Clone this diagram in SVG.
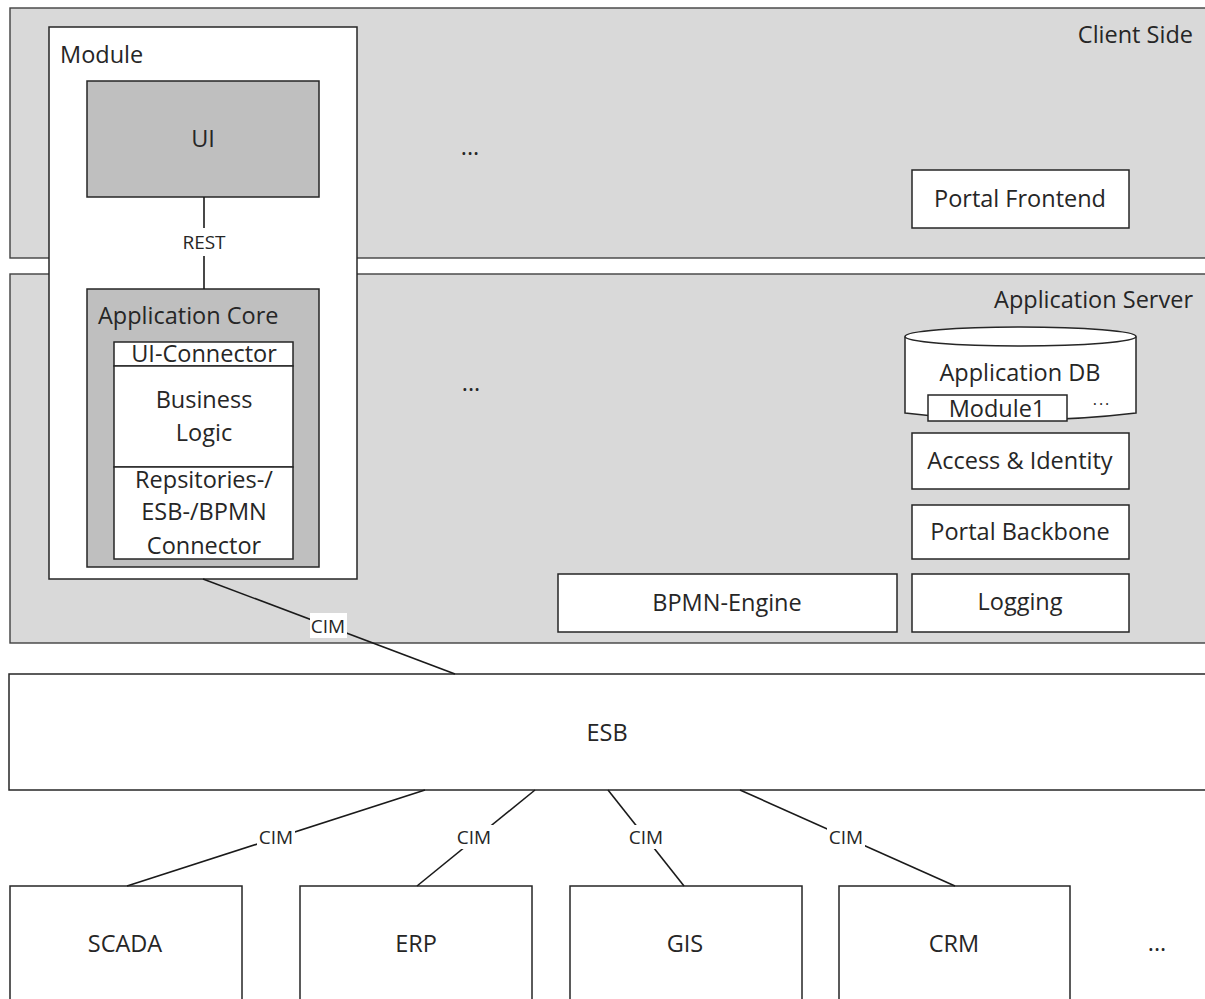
<svg xmlns="http://www.w3.org/2000/svg" width="1205" height="999" viewBox="0 0 1205 999">
  <style>
    text { font-family: "Open Sans", "Noto Sans", "DejaVu Sans", sans-serif; fill: #262626; }
    .lbl { font-size: 23.5px; text-anchor: middle; }
    .head { font-size: 23.5px; }
    .small { font-size: 19px; text-anchor: middle; }
    .panel { fill: #d9d9d9; stroke: #404040; stroke-width: 1.4; }
    .box { fill: #ffffff; stroke: #262626; stroke-width: 1.5; }
    .dark { fill: #bfbfbf; stroke: #262626; stroke-width: 1.5; }
    .conn { stroke: #1a1a1a; stroke-width: 1.6; fill: none; }
    .tagbg { fill: #ffffff; }
  </style>

  <!-- tiers -->
  <g id="client-side">
    <rect class="panel" x="10" y="8" width="1205" height="250"/>
    <text x="1193" y="43" class="head" text-anchor="end">Client Side</text>
    <text x="470" y="155" class="lbl">...</text>
  </g>
  <g id="application-server">
    <rect class="panel" x="10" y="274" width="1205" height="369"/>
    <text x="1193" y="308" class="head" text-anchor="end">Application Server</text>
    <text x="471" y="391" class="lbl">...</text>
  </g>

  <g id="portal-frontend">
    <rect class="box" x="912" y="170" width="217" height="58"/>
    <text x="1020" y="207" class="lbl">Portal Frontend</text>
  </g>

  <g id="application-db">
    <path class="box" d="M905,336.5 L905,413 Q1020,427 1136,413 L1136,336.5"/>
    <ellipse class="box" cx="1020.5" cy="336.5" rx="115.5" ry="9.5"/>
    <text x="1020" y="381" class="lbl">Application DB</text>
    <text x="1102" y="405" font-size="16" letter-spacing="2" text-anchor="middle">...</text>
  </g>
  <g id="db-module1">
    <rect class="box" x="928" y="395" width="139" height="26"/>
    <text x="997" y="417" class="lbl">Module1</text>
  </g>

  <g id="access-identity">
    <rect class="box" x="912" y="433" width="217" height="56"/>
    <text x="1020" y="469" class="lbl">Access &amp; Identity</text>
  </g>
  <g id="portal-backbone">
    <rect class="box" x="912" y="505" width="217" height="54"/>
    <text x="1020" y="540" class="lbl">Portal Backbone</text>
  </g>
  <g id="logging">
    <rect class="box" x="912" y="574" width="217" height="58"/>
    <text x="1020" y="610" class="lbl">Logging</text>
  </g>
  <g id="bpmn-engine">
    <rect class="box" x="558" y="574" width="339" height="58"/>
    <text x="727" y="611" class="lbl">BPMN-Engine</text>
  </g>

  <!-- module -->
  <g id="module">
    <rect class="box" x="49" y="27" width="308" height="552"/>
    <text x="60" y="63" class="head">Module</text>
  </g>
  <g id="ui">
    <rect class="dark" x="87" y="81" width="232" height="116"/>
    <text x="203" y="147" class="lbl">UI</text>
  </g>
  <g id="application-core">
    <rect class="dark" x="87" y="289" width="232" height="278"/>
    <text x="98" y="324" class="head">Application Core</text>
  </g>
  <g id="ui-connector">
    <rect class="box" x="114" y="342" width="179" height="24"/>
    <text x="204" y="362" class="lbl">UI-Connector</text>
  </g>
  <g id="business-logic">
    <rect class="box" x="114" y="366" width="179" height="101"/>
    <text x="204" y="408" class="lbl">Business</text>
    <text x="204" y="441" class="lbl">Logic</text>
  </g>
  <g id="repository-connector">
    <rect class="box" x="114" y="467" width="179" height="92"/>
    <text x="204" y="488" class="lbl">Repsitories-/</text>
    <text x="204" y="520" class="lbl">ESB-/BPMN</text>
    <text x="204" y="554" class="lbl">Connector</text>
  </g>

  <!-- integration layer -->
  <g id="esb">
    <rect class="box" x="9" y="674" width="1210" height="116"/>
    <text x="607" y="741" class="lbl">ESB</text>
  </g>

  <g id="scada">
    <rect class="box" x="10" y="886" width="232" height="130"/>
    <text x="125" y="952" class="lbl">SCADA</text>
  </g>
  <g id="erp">
    <rect class="box" x="300" y="886" width="232" height="130"/>
    <text x="416" y="952" class="lbl">ERP</text>
  </g>
  <g id="gis">
    <rect class="box" x="570" y="886" width="232" height="130"/>
    <text x="685" y="952" class="lbl">GIS</text>
  </g>
  <g id="crm">
    <rect class="box" x="839" y="886" width="231" height="130"/>
    <text x="954" y="952" class="lbl">CRM</text>
  </g>
  <text x="1157" y="951" class="lbl">...</text>

  <!-- connectors -->
  <g id="connectors">
    <line class="conn" x1="204" y1="197" x2="204" y2="228"/>
    <line class="conn" x1="204" y1="256" x2="204" y2="289"/>
    <text x="204" y="249" class="small" font-size="18">REST</text>

    <line class="conn" x1="203" y1="579" x2="455" y2="674"/>
    <rect class="tagbg" x="310" y="613" width="37" height="25"/>
    <text x="328" y="633" class="small">CIM</text>

    <line class="conn" x1="425" y1="790" x2="127" y2="886"/>
    <rect class="tagbg" x="257" y="825" width="38" height="24"/>
    <text x="276" y="844" class="small">CIM</text>

    <line class="conn" x1="535" y1="790" x2="417" y2="886"/>
    <rect class="tagbg" x="455" y="825" width="38" height="24"/>
    <text x="474" y="844" class="small">CIM</text>

    <line class="conn" x1="608" y1="790" x2="684" y2="886"/>
    <rect class="tagbg" x="627" y="825" width="38" height="24"/>
    <text x="646" y="844" class="small">CIM</text>

    <line class="conn" x1="740" y1="790" x2="955" y2="886"/>
    <rect class="tagbg" x="827" y="825" width="38" height="24"/>
    <text x="846" y="844" class="small">CIM</text>
  </g>
</svg>
